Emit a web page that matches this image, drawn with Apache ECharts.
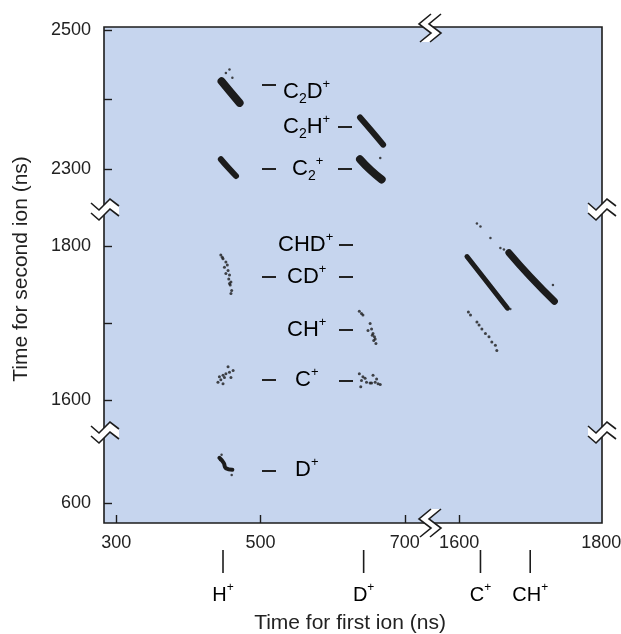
<!DOCTYPE html>
<html>
<head>
<meta charset="UTF-8">
<title>Coincidence map</title>
<script src="https://cdn.jsdelivr.net/npm/echarts@6/dist/echarts.min.js"></script>
<style>
  html, body { margin: 0; padding: 0; background: #fff; }
  #main { width: 621px; height: 634px; }
</style>
</head>
<body>
<div id="main"></div>
<script>
// broken axes: each piece is [min, max] in ns
var xPieces = [[283, 735], [1559, 1801]];
var yPieces = [[2244, 2504], [1557, 1849], [573, 693]];
var xTickVals = [[300, 500, 700], [1600]];
var xLabelVals = [[300, 500, 700], [1600, 1800]];
var yTickVals = [[2300, 2400, 2500], [1600, 1700, 1800], [600]];
var yLabelVals = [[2300, 2500], [1600, 1800], [600]];

// dense streaks [first ion, second ion]
var hC2dStreak = [[446, 2426], [458, 2411], [471, 2395]];
var dC2hStreak = [[638, 2374], [653, 2356], [670, 2335]];
var hC2Streak = [[445, 2314], [456, 2301], [466, 2290]];
var dC2Streak = [[638, 2314], [653, 2298], [668, 2285]];
var topStray = [[452, 2438], [457, 2443], [461, 2431], [666, 2316]];

// sparse clusters
var hCdDots = [[445, 1788], [448, 1783], [452, 1779], [450, 1772], [455, 1768], [452, 1764], [457, 1762],
  [456, 1757], [459, 1753], [458, 1749], [460, 1742], [459, 1738], [447, 1785], [454, 1775], [457, 1751]];
var dChDots = [[637, 1715], [642, 1710], [652, 1699], [654, 1692], [656, 1686], [659, 1679], [660, 1673],
  [649, 1690], [655, 1684], [657, 1677], [640, 1712], [658, 1682]];
var hCDots = [[455, 1643], [457, 1636], [448, 1632], [443, 1630], [450, 1629], [459, 1629], [441, 1623],
  [448, 1621], [445, 1626], [462, 1638], [452, 1634]];
var dCDots = [[637, 1634], [642, 1630], [640, 1625], [647, 1623], [652, 1622], [656, 1632], [659, 1623],
  [663, 1621], [666, 1620], [639, 1617], [654, 1622], [645, 1628], [661, 1627]];

// heavy ion pairs
var cLine = [[1611, 1786], [1640, 1752], [1668, 1719]];
var chLine = [[1670, 1791], [1700, 1760], [1734, 1728]];
var cDotted = [[1613, 1714], [1616, 1710], [1625, 1701], [1628, 1697], [1632, 1692], [1637, 1686],
  [1642, 1682], [1646, 1675], [1651, 1671], [1653, 1664]];
var heavyStray = [[1625, 1829], [1630, 1825], [1644, 1810], [1658, 1797], [1663, 1795], [1672, 1718], [1732, 1749]];

// H+ / D+ pair
var hDStreak = [[443, 660], [449, 653], [452, 646], [461, 644]];
var hDDots = [[446, 664], [460, 637], [444, 657]];

// first-ion markers under the x axis
var ionNames = ['H', 'D', 'C', 'CH'];
var ionTimes = [448, 643, 1630, 1700];

var FONT = '"Liberation Sans", Arial, Helvetica, sans-serif';
var INK = '#1c1c1c';

var chart = echarts.init(document.getElementById('main'));

// pixel layout of the pieces
var colPx = [[104, 326], [430, 172]];
var rowPx = [[27, 181], [208, 225], [433, 90]];

function plain(v) { return String(v); }

var grids = [], xAxes = [], yAxes = [];
for (var r = 0; r < 3; r++) {
  for (var c = 0; c < 2; c++) {
    var gi = r * 2 + c;
    grids.push({
      left: colPx[c][0], top: rowPx[r][0], width: colPx[c][1], height: rowPx[r][1],
      outerBoundsMode: 'none', containLabel: false,
      show: true, backgroundColor: '#c6d5ee', borderWidth: 0
    });
    xAxes.push({
      type: 'value', gridIndex: gi, min: xPieces[c][0], max: xPieces[c][1],
      axisLine: { show: false }, splitLine: { show: false },
      axisTick: { show: r === 2, inside: true, length: 8, customValues: xTickVals[c],
        lineStyle: { color: INK, width: 1.4 } },
      axisLabel: { show: r === 2, customValues: xLabelVals[c], margin: 11, formatter: plain,
        fontSize: 18, color: '#222', fontFamily: FONT }
    });
    yAxes.push({
      type: 'value', gridIndex: gi, min: yPieces[r][0], max: yPieces[r][1],
      axisLine: { show: false }, splitLine: { show: false },
      axisTick: { show: c === 0, inside: true, length: 8, customValues: yTickVals[r],
        lineStyle: { color: INK, width: 1.4 } },
      axisLabel: { show: c === 0, customValues: yLabelVals[r], margin: 13, formatter: plain,
        fontSize: 18, color: '#222', fontFamily: FONT }
    });
  }
}

function streak(gi, data, w) {
  return { type: 'line', xAxisIndex: gi, yAxisIndex: gi, data: data, symbol: 'none',
    smooth: true, silent: true, z: 5,
    lineStyle: { color: INK, width: w, cap: 'round', join: 'round' } };
}
function dots(gi, data, s) {
  return { type: 'scatter', xAxisIndex: gi, yAxisIndex: gi, data: data, symbolSize: s,
    silent: true, z: 5, itemStyle: { color: INK } };
}

var series = [
  streak(0, hC2dStreak, 8), streak(0, dC2hStreak, 6), streak(0, hC2Streak, 6), streak(0, dC2Streak, 8),
  dots(0, topStray, 2.5),
  dots(2, hCdDots, 3), dots(2, dChDots, 3), dots(2, hCDots, 3), dots(2, dCDots, 3),
  streak(3, cLine, 5), streak(3, chLine, 7), dots(3, cDotted, 3), dots(3, heavyStray, 2.5),
  streak(4, hDStreak, 4), dots(4, hDDots, 2.5)
];

// rich text for ion labels
var rich = {
  m: { fontSize: 22, fontFamily: FONT, color: '#222', lineHeight: 28, verticalAlign: 'middle' },
  sp: { fontSize: 13, fontFamily: FONT, color: '#222', lineHeight: 14, verticalAlign: 'top' },
  sb: { fontSize: 14, fontFamily: FONT, color: '#222', lineHeight: 14, verticalAlign: 'bottom' }
};
function ionText(x, y, str) {
  return { type: 'text', x: x, y: y, z: 10, silent: true,
    style: { text: str, rich: rich, align: 'left', verticalAlign: 'middle' } };
}
function dash(x, y) {
  return { type: 'line', z: 10, silent: true,
    shape: { x1: x, y1: y, x2: x + 14, y2: y }, style: { stroke: '#222', lineWidth: 2 } };
}

var graphics = [
  { type: 'rect', z: 20, silent: true, shape: { x: 104, y: 27, width: 498, height: 496 },
    style: { fill: null, stroke: INK, lineWidth: 1.6 } },
  ionText(283, 92, '{m|C}{sb|2}{m|D}{sp|+}'), dash(262, 85),
  ionText(283, 127, '{m|C}{sb|2}{m|H}{sp|+}'), dash(338, 127),
  ionText(292, 169, '{m|C}{sb|2}{sp|+}'), dash(262, 169), dash(338, 169),
  ionText(278, 245, '{m|CHD}{sp|+}'), dash(339, 245),
  ionText(287, 277, '{m|CD}{sp|+}'), dash(262, 277), dash(339, 277),
  ionText(287, 330, '{m|CH}{sp|+}'), dash(339, 330),
  ionText(295, 380, '{m|C}{sp|+}'), dash(262, 380), dash(339, 381),
  ionText(295, 470, '{m|D}{sp|+}'), dash(262, 471),
  { type: 'text', x: 350, y: 623, silent: true,
    style: { text: 'Time for first ion (ns)', fontSize: 21, fontFamily: FONT, fill: '#222',
      align: 'center', verticalAlign: 'middle' } },
  { type: 'text', x: 21, y: 269, rotation: Math.PI / 2, silent: true,
    style: { text: 'Time for second ion (ns)', fontSize: 21, fontFamily: FONT, fill: '#222',
      align: 'center', verticalAlign: 'middle' } }
];

// axis break marks
function breakMark(cx, cy, vertical) {
  var base = vertical
    ? [[-14, -2], [-6, 5], [5, -6], [14, 1]]
    : [[6, -14], [-6, -4], [6, 5], [-5, 14]];
  var off = 5, a = [], b = [];
  base.forEach(function (p) {
    if (vertical) { a.push([cx + p[0], cy + p[1] - off]); b.push([cx + p[0], cy + p[1] + off]); }
    else { a.push([cx + p[0] - off, cy + p[1]]); b.push([cx + p[0] + off, cy + p[1]]); }
  });
  return [
    { type: 'polygon', z: 30, silent: true, shape: { points: a.concat(b.slice().reverse()) },
      style: { fill: '#fff', stroke: null } },
    { type: 'polyline', z: 31, silent: true, shape: { points: a }, style: { stroke: INK, lineWidth: 1.6, fill: null } },
    { type: 'polyline', z: 31, silent: true, shape: { points: b }, style: { stroke: INK, lineWidth: 1.6, fill: null } }
  ];
}
graphics = graphics
  .concat(breakMark(430, 28, false)).concat(breakMark(430, 523, false))
  .concat(breakMark(105, 210, true)).concat(breakMark(105, 433, true))
  .concat(breakMark(602, 210, true)).concat(breakMark(602, 433, true));

chart.setOption({
  animation: false,
  grid: grids,
  xAxis: xAxes,
  yAxis: yAxes,
  series: series,
  graphic: graphics
});

// ion markers placed through the x scale
var marks = [];
ionTimes.forEach(function (t, i) {
  var axisIdx = t > xPieces[0][1] ? 5 : 4;
  var px = chart.convertToPixel({ xAxisIndex: axisIdx }, t);
  marks.push({ type: 'line', silent: true, shape: { x1: px, y1: 550, x2: px, y2: 573 },
    style: { stroke: INK, lineWidth: 1.6 } });
  marks.push({ type: 'text', x: px, y: 595, silent: true,
    style: { text: '{m|' + ionNames[i] + '}{sp|+}', rich: {
      m: { fontSize: 20, fontFamily: FONT, color: '#222', lineHeight: 26, verticalAlign: 'middle' },
      sp: { fontSize: 12, fontFamily: FONT, color: '#222', lineHeight: 13, verticalAlign: 'top' }
    }, align: 'center', verticalAlign: 'middle' } });
});
chart.setOption({ graphic: graphics.concat(marks) });
</script>
</body>
</html>
